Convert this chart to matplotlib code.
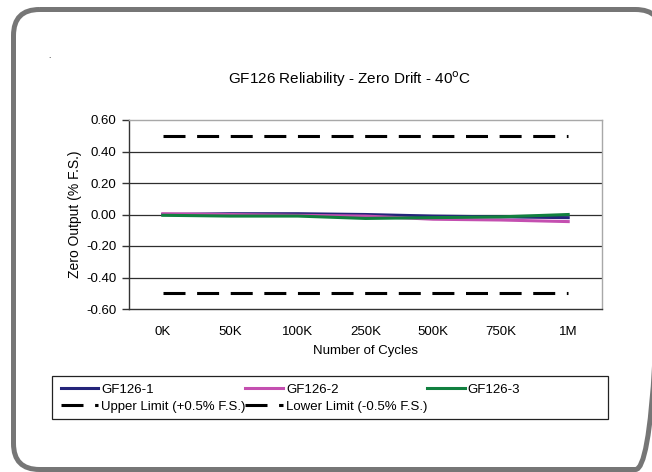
from matplotlib import pyplot as plt
from matplotlib.patches import FancyBboxPatch, Rectangle

plt.rcParams['font.family'] = ['Liberation Sans', 'DejaVu Sans']
plt.rcParams['font.size'] = 9.5

# data
cycles = ["0K", "50K", "100K", "250K", "500K", "750K", "1M"]
gf126_1 = [0.0, 0.005, 0.005, 0.0, -0.01, -0.015, -0.02]
gf126_2 = [0.005, 0.0, -0.005, -0.01, -0.03, -0.035, -0.045]
gf126_3 = [-0.005, -0.01, -0.01, -0.025, -0.02, -0.015, 0.0]
upper_limit = [0.5] * 7
lower_limit = [-0.5] * 7
y_ticks = [0.6, 0.4, 0.2, 0.0, -0.2, -0.4, -0.6]
y_labels = ["0.60", "0.40", "0.20", "0.00", "-0.20", "-0.40", "-0.60"]

W, H = 652, 472
fig = plt.figure(figsize=(W / 100, H / 100), dpi=100)

# background axes in pixel units, for the rounded frame and legend box
bg = fig.add_axes([0, 0, 1, 1], zorder=-1)
bg.set_xlim(0, W)
bg.set_ylim(H, 0)
bg.axis("off")
bg.add_patch(FancyBboxPatch((13.5, 9.5), 648, 460,
                            boxstyle="round,pad=0,rounding_size=26",
                            facecolor="none", edgecolor="#767676",
                            linewidth=3.6, clip_on=False))
bg.add_patch(Rectangle((52, 376), 556, 43, fill=False,
                       edgecolor="#222222", lw=0.9))

ax = fig.add_axes([129 / W, 1 - 309 / H, 473 / W, 189 / H])
x = range(len(cycles))

ax.plot(x, gf126_1, color="#24247a", lw=2.2, label="GF126-1", zorder=3)
ax.plot(x, gf126_2, color="#c44fb0", lw=2.2, label="GF126-2", zorder=3)
ax.plot(x, gf126_3, color="#11803f", lw=2.2, label="GF126-3", zorder=4)
ax.plot(x, upper_limit, color="black", lw=2.2, dashes=(7.2, 3.8),
        dash_capstyle="butt", label="Upper Limit (+0.5% F.S.)", zorder=3)
ax.plot(x, lower_limit, color="black", lw=2.2, dashes=(7.2, 3.8),
        dash_capstyle="butt", label="Lower Limit (-0.5% F.S.)", zorder=3)

ax.set_xlim(-0.5, 6.5)
ax.set_ylim(-0.6, 0.6)
ax.set_xticks(list(x))
ax.set_xticklabels(cycles)
ax.set_yticks(y_ticks)
ax.set_yticklabels(y_labels)
ax.tick_params(axis="x", length=0, pad=12)
ax.tick_params(axis="y", length=5, width=1, color="#333333", pad=4)
for yv in [0.4, 0.2, 0.0, -0.2, -0.4]:
    ax.axhline(yv, color="#2e2e2e", lw=0.9, zorder=1)

ax.spines["left"].set_color("#333333")
ax.spines["bottom"].set_color("#333333")
ax.spines["top"].set_color("#a8a8a8")
ax.spines["right"].set_color("#a8a8a8")
for s in ax.spines.values():
    s.set_linewidth(1.0)

ax.set_ylabel("Zero Output (% F.S.)", labelpad=3, fontsize=10)
ax.set_xlabel("Number of Cycles", labelpad=5)

fig.text(350 / W, 1 - 79 / H, "GF126 Reliability - Zero Drift - 40$^{\\rm o}$C",
         ha="center", va="center", fontsize=11)
fig.text(49 / W, 1 - 56 / H, ".", ha="center", va="center", fontsize=6)

# legend: rows GF126-1/2/3, then the two limits
h, l = ax.get_legend_handles_labels()
order = [0, 3, 1, 4, 2]
fig.legend([h[i] for i in order], [l[i] for i in order], ncol=3,
           loc="upper left", bbox_to_anchor=(52 / W, 1 - 375 / H),
           frameon=False, handlelength=2.82, handletextpad=0.25,
           columnspacing=0.0, labelspacing=0.35, borderpad=0.65,
           borderaxespad=0)

fig.savefig("out.png", dpi=100)
